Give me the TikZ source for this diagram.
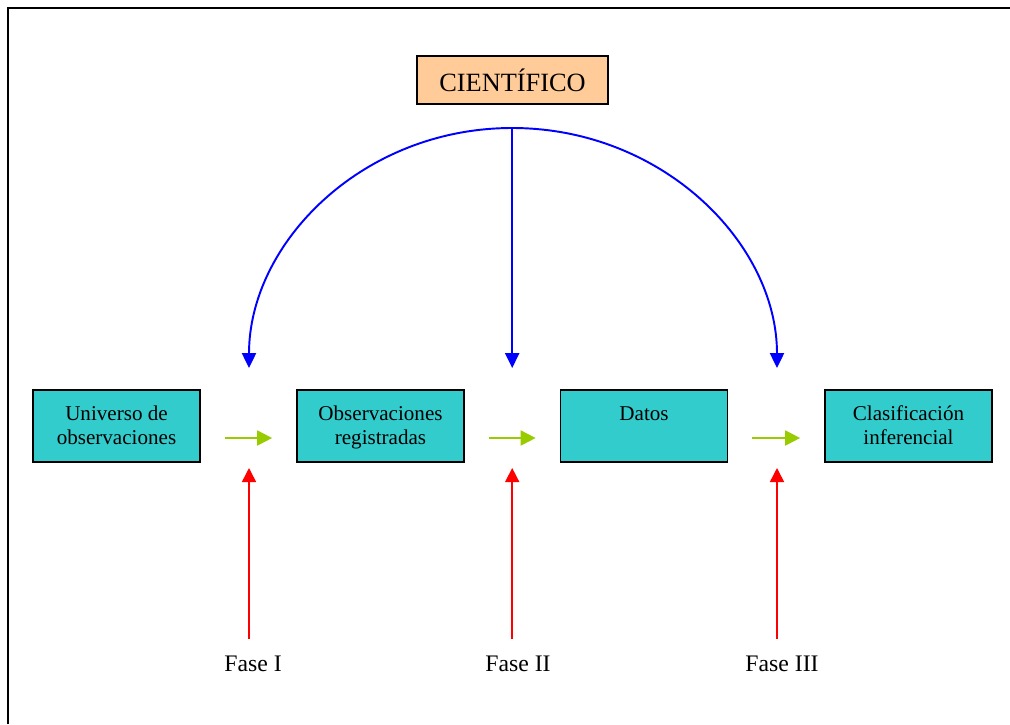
\documentclass[tikz,border=0pt]{standalone}
\usepackage{fontspec}
\setmainfont{Liberation Serif}
\usetikzlibrary{arrows.meta}

\definecolor{turquesa}{HTML}{33CCCC}
\definecolor{melocoton}{HTML}{FFCC99}
\definecolor{verdelima}{HTML}{99CC00}

\tikzset{
  caja/.style={draw, line width=1pt, fill=turquesa, minimum width=3.34cm, minimum height=1.44cm,
    inner sep=0pt, text width=3.2cm, align=flush center, font=\fontsize{12}{14.2}\selectfont,
    text height=11pt, text depth=17.8pt},
  cientifico/.style={draw, line width=1pt, fill=melocoton, minimum width=3.82cm, minimum height=0.96cm,
    inner sep=0pt, font=\fontsize{15}{18}\selectfont},
  fase/.style={font=\fontsize{13.5}{16}\selectfont},
  flechaazul/.style={blue, line width=1.1pt, -{Triangle[length=8.5pt,width=8pt]}},
  flechaverde/.style={verdelima, line width=1.1pt, -{Triangle[length=8.5pt,width=8.5pt]}},
  flecharoja/.style={red, line width=0.9pt, -{Triangle[length=8pt,width=8pt]}}
}

\begin{document}
\begin{tikzpicture}[x=0.02cm,y=-0.02cm]
\useasboundingbox (0,0) rectangle (1010,724);
\draw [line width=1.6pt] (8,724) -- (8,8) -- (1010,8);

% cajas
\node [cientifico] (cient) at (512.5,80) {CIENTÍFICO};
\node [caja] (universo) at (116.5,426) {Universo de\\observaciones};
\node [caja] (registro) at (380.5,426) {Observaciones\\registradas};
\node [caja] (datos) at (644,426) {Datos};
\node [caja] (clasif) at (908.5,426) {Clasificación\\inferencial};

\coordinate (cima) at (512.2,128);
\coordinate (paso1) at (249,438);
\coordinate (paso2) at (512.2,438);
\coordinate (paso3) at (777,438);

\node [fase] (fase1) at (253,664) {Fase I};
\node [fase] (fase2) at (518,664) {Fase II};
\node [fase] (fase3) at (782,664) {Fase III};

% flechas verdes
\draw [flechaverde] ([shift={(24,12)}]universo.east) -- ([shift={(-24,12)}]registro.west);
\draw [flechaverde] ([shift={(24,12)}]registro.east) -- ([shift={(-24,12)}]datos.west);
\draw [flechaverde] ([shift={(24,12)}]datos.east) -- ([shift={(-24,12)}]clasif.west);

% flechas rojas
\draw [flecharoja, shorten <=0.22cm, shorten >=0.6cm] (paso1 |- fase1.north) -- (paso1);
\draw [flecharoja, shorten <=0.22cm, shorten >=0.6cm] (paso2 |- fase2.north) -- (paso2);
\draw [flecharoja, shorten <=0.22cm, shorten >=0.6cm] (paso3 |- fase3.north) -- (paso3);

% flechas azules
\draw [flechaazul, shorten >=1.4cm] (cima) -- (paso2);
\draw [flechaazul] (cima) .. controls +(-150,0) and +(0,-125) .. ([yshift=1.4cm]paso1);
\draw [flechaazul] (cima) .. controls +(150,0) and +(0,-125) .. ([yshift=1.4cm]paso3);

\end{tikzpicture}
\end{document}
